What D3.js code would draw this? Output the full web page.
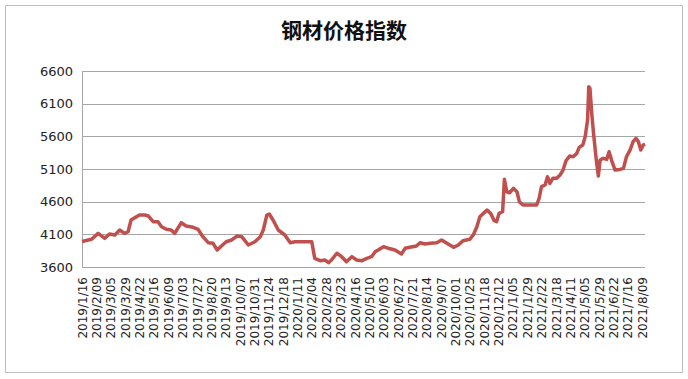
<!DOCTYPE html>
<html><head><meta charset="utf-8">
<script src="https://cdn.jsdelivr.net/npm/d3@7/dist/d3.min.js"></script>
<style>body{margin:0;background:#fff}svg{display:block}</style>
</head><body><svg id="c" width="688" height="379"></svg>
<script>
const title = "钢材价格指数";
const dates = [
"2019-01-16","2019-02-01","2019-02-12","2019-02-23","2019-03-03","2019-03-12","2019-03-20","2019-03-28","2019-04-03","2019-04-08",
"2019-04-17","2019-04-22","2019-05-01","2019-05-07","2019-05-15","2019-05-23","2019-05-29","2019-06-06","2019-06-14","2019-06-20",
"2019-06-25","2019-07-01","2019-07-09","2019-07-21","2019-07-29","2019-08-06","2019-08-15","2019-08-23","2019-08-30","2019-09-06",
"2019-09-14","2019-09-23","2019-10-02","2019-10-10","2019-10-21","2019-11-01","2019-11-10","2019-11-15","2019-11-21","2019-11-25",
"2019-12-02","2019-12-10","2019-12-21","2019-12-30","2020-01-07","2020-02-04","2020-02-09","2020-02-18","2020-02-26","2020-03-03",
"2020-03-08","2020-03-17","2020-03-25","2020-04-02","2020-04-11","2020-04-19","2020-04-28","2020-05-06","2020-05-14","2020-05-20",
"2020-05-25","2020-06-03","2020-06-11","2020-06-22","2020-07-03","2020-07-09","2020-07-17","2020-07-28","2020-08-03","2020-08-11",
"2020-08-20","2020-08-31","2020-09-08","2020-09-17","2020-09-28","2020-10-06","2020-10-14","2020-10-25","2020-10-31","2020-11-06",
"2020-11-11","2020-11-17","2020-11-23","2020-11-29","2020-12-05","2020-12-09","2020-12-13","2020-12-19","2020-12-22","2020-12-26",
"2020-12-31","2021-01-06","2021-01-12","2021-01-16","2021-01-22","2021-02-03","2021-02-14","2021-02-18","2021-02-22","2021-02-28",
"2021-03-04","2021-03-08","2021-03-13","2021-03-19","2021-03-25","2021-03-30","2021-04-04","2021-04-10","2021-04-16","2021-04-22",
"2021-04-26","2021-05-02","2021-05-06","2021-05-10","2021-05-12","2021-05-14","2021-05-17","2021-05-20","2021-05-24","2021-05-28",
"2021-05-31","2021-06-05","2021-06-11","2021-06-15","2021-06-19","2021-06-25","2021-07-03","2021-07-09","2021-07-14","2021-07-20",
"2021-07-25","2021-07-30","2021-08-03","2021-08-07","2021-08-11","2021-08-14"
];
const values = [
3990,4024,4115,4039,4105,4090,4166,4115,4140,4319,
4370,4396,4396,4380,4293,4293,4217,4177,4166,4115,
4192,4278,4227,4207,4177,4064,3972,3962,3860,3921,
3987,4013,4074,4064,3937,3987,4064,4166,4396,4411,
4308,4166,4090,3972,3987,3987,3733,3697,3707,3666,
3707,3810,3758,3681,3758,3707,3697,3733,3758,3834,
3860,3911,3886,3860,3799,3886,3901,3921,3972,3952,
3962,3972,4013,3962,3901,3937,4003,4024,4090,4217,
4370,4421,4472,4421,4308,4293,4421,4446,4942,4752,
4737,4804,4752,4600,4549,4549,4549,4651,4829,4855,
4982,4880,4957,4957,5008,5084,5226,5298,5288,5339,
5431,5467,5594,5849,6359,6334,5952,5646,5288,4992,
5237,5263,5247,5364,5237,5084,5094,5110,5288,5390,
5517,5569,5517,5390,5467,5482
];
const yTicks = [3600,4100,4600,5100,5600,6100,6600];
const xTickLabels = ["2019/1/16","2019/2/09","2019/3/05","2019/3/29","2019/4/22","2019/5/16","2019/6/09","2019/7/03","2019/7/27","2019/8/20",
"2019/9/13","2019/10/07","2019/10/31","2019/11/24","2019/12/18","2020/1/11","2020/2/04","2020/2/28","2020/3/23","2020/4/16",
"2020/5/10","2020/6/03","2020/6/27","2020/7/21","2020/8/14","2020/9/07","2020/10/01","2020/10/25","2020/11/18","2020/12/12",
"2021/1/05","2021/1/29","2021/2/22","2021/3/18","2021/4/11","2021/5/05","2021/5/29","2021/6/22","2021/7/16","2021/8/09"];

const parseD = d3.timeParse("%Y-%m-%d");
const parseL = d3.timeParse("%Y/%m/%d");
const data = dates.map((d,i)=>({date:parseD(d), value:values[i]}));

const svg = d3.select("#c");
const plot = {left:82, right:645, top:71, bottom:267};

svg.append("rect").attr("x",5.5).attr("y",5.5).attr("width",677).attr("height",367)
  .attr("fill","#fff").attr("stroke","#bfbfbf").attr("stroke-width",1);

const x = d3.scaleTime().domain([parseD("2019-01-16"), parseD("2021-08-14")]).range([plot.left, plot.right]);
const y = d3.scaleLinear().domain([3600,6600]).range([plot.bottom, plot.top]);

// gridlines
svg.append("g").selectAll("line").data(yTicks).join("line")
  .attr("x1",plot.left).attr("x2",plot.right)
  .attr("y1",d=>Math.round(y(d))+0.5).attr("y2",d=>Math.round(y(d))+0.5)
  .attr("stroke","#a6a6a6").attr("stroke-width",1);

// y axis line
svg.append("line").attr("x1",plot.left+0.5).attr("x2",plot.left+0.5)
  .attr("y1",plot.top).attr("y2",plot.bottom).attr("stroke","#a6a6a6");

// y labels
const yAxis = d3.axisLeft(y).tickValues(yTicks).tickSize(0).tickPadding(9).tickFormat(d3.format("d"));
const gy = svg.append("g").attr("transform",`translate(${plot.left},0)`).call(yAxis);
gy.select(".domain").remove();
gy.selectAll("text").attr("font-family","DejaVu Sans, sans-serif").attr("font-size",13).attr("fill","#222");

// x labels
const xAxis = d3.axisBottom(x).tickValues(xTickLabels.map(parseL)).tickSize(0)
  .tickFormat((d,i)=>xTickLabels[i]);
const gx = svg.append("g").attr("transform",`translate(0,${plot.bottom})`).call(xAxis);
gx.select(".domain").remove();
gx.selectAll("text").attr("font-family","DejaVu Sans, sans-serif").attr("font-size",12).attr("fill","#222")
  .attr("text-anchor","end").attr("transform","rotate(-90)").attr("x",-10).attr("y",0).attr("dy","0.35em");

// line
svg.append("path").datum(data)
  .attr("fill","none").attr("stroke","#c0504d").attr("stroke-width",3.5).attr("stroke-linejoin","round")
  .attr("d", d3.line().x(d=>x(d.date)).y(d=>y(d.value)));

// title
svg.append("text").attr("x",344).attr("y",38).attr("text-anchor","middle")
  .attr("font-family","Noto Sans CJK SC").attr("font-weight","bold").attr("font-size",21).attr("fill","#111")
  .text(title);
</script>
</body></html>
